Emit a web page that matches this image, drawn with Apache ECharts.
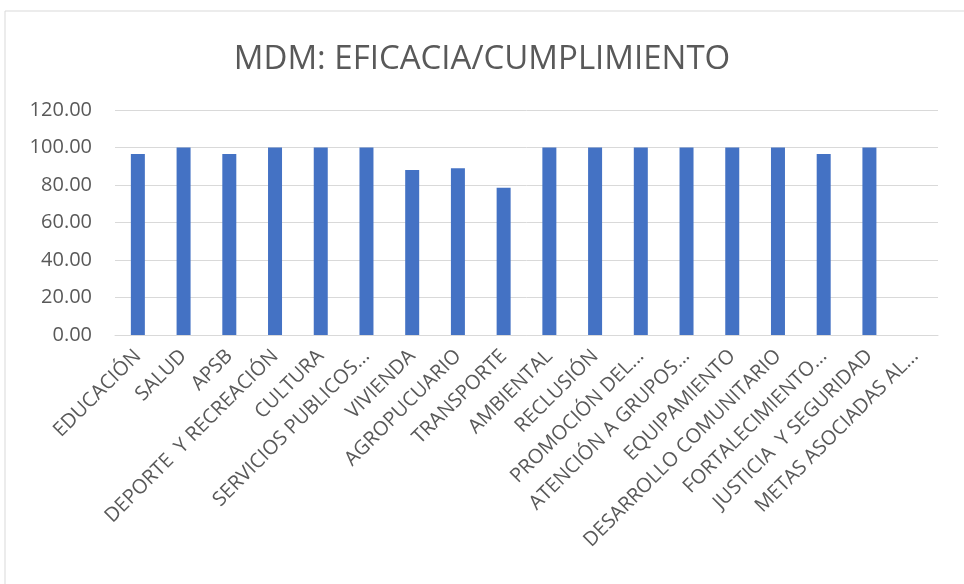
<!DOCTYPE html>
<html><head><meta charset="utf-8">
<script src="https://cdn.jsdelivr.net/npm/echarts@6/dist/echarts.min.js"></script>
<style>html,body{margin:0;padding:0;background:#fff}#c{width:964px;height:584px}</style>
</head><body><div id="c"></div>
<script>
const categories = ["EDUCACIÓN","SALUD","APSB","DEPORTE  Y RECREACIÓN","CULTURA","SERVICIOS PUBLICOS...","VIVIENDA","AGROPUCUARIO","TRANSPORTE","AMBIENTAL","RECLUSIÓN","PROMOCIÓN DEL...","ATENCIÓN A GRUPOS...","EQUIPAMIENTO","DESARROLLO COMUNITARIO","FORTALECIMIENTO...","JUSTICIA  Y SEGURIDAD","METAS ASOCIADAS AL..."];
const values = [96.5,100,96.5,100,100,100,88,89,78.5,100,100,100,100,100,100,96.5,100,null];
const chart = echarts.init(document.getElementById('c'));
chart.setOption({
  animation:false,
  title:{text:'MDM: EFICACIA/CUMPLIMIENTO',left:'center',top:38,
    textStyle:{fontFamily:'Open Sans, sans-serif',fontWeight:'normal',fontSize:33,color:'#595959'}},
  graphic:[{type:'rect',shape:{x:5,y:11,width:1000,height:600},style:{fill:'none',stroke:'#d9d9d9',lineWidth:1}}],
  grid:{left:115,right:26,top:110,bottom:249},
  xAxis:{type:'category',data:categories,
    axisLine:{lineStyle:{color:'#d9d9d9'}},axisTick:{show:false},
    axisLabel:{rotate:45,interval:0,color:'#595959',fontSize:20,fontFamily:'Open Sans, sans-serif',margin:18}},
  yAxis:{type:'value',min:0,max:120,interval:20,
    axisLine:{show:false},axisTick:{show:false},
    splitLine:{lineStyle:{color:'#d9d9d9'}},
    axisLabel:{formatter:v=>v.toFixed(2),color:'#595959',fontSize:20,fontFamily:'Open Sans, sans-serif',margin:23}},
  series:[{type:'bar',data:values,barWidth:14,itemStyle:{color:'#4472C4'}}]
});
</script></body></html>
